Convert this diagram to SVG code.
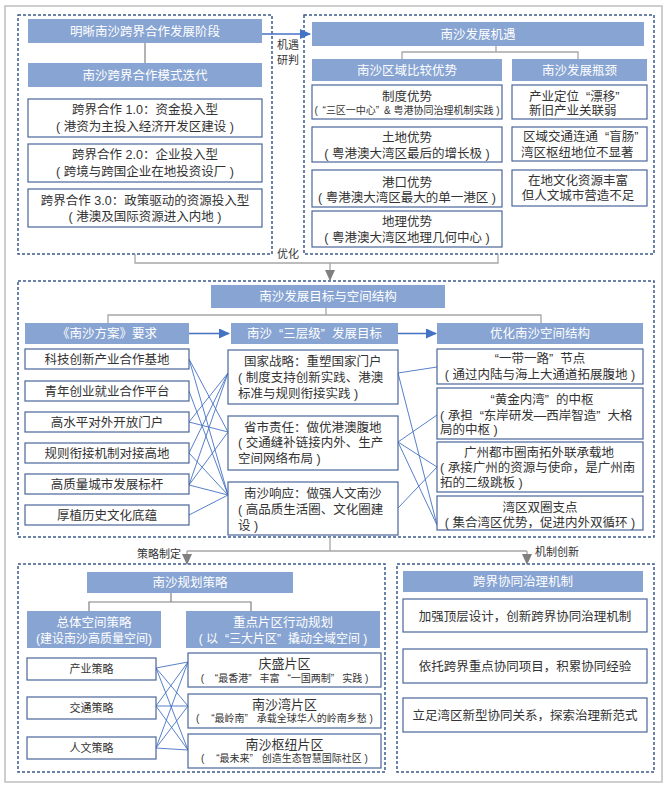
<svg xmlns="http://www.w3.org/2000/svg" width="670" height="787" viewBox="0 0 670 787">
<defs>
<style>
text{font-family:"Liberation Sans","Noto Sans CJK SC",sans-serif;fill:#333;}
.bar{fill:#87a4d2;}
.bt{fill:#fff;font-size:12.5px;text-anchor:middle;}
.box{fill:#fff;stroke:#4a659a;stroke-width:1.2;}
.t{font-size:12.5px;text-anchor:middle;}
.ts{font-size:12.5px;}
.s{font-size:10px;text-anchor:middle;}
.sm{font-size:11px;text-anchor:middle;}
.lab{font-size:11px;}
.dash{fill:none;stroke:#3b5b8c;stroke-width:1.5;stroke-dasharray:3 2;}
.g{fill:none;stroke:#a6a6a6;stroke-width:1.3;}
.gk{fill:none;stroke:#808080;stroke-width:1.2;}
.bl{fill:none;stroke:#4472c4;stroke-width:0.9;}
.ba{fill:none;stroke:#4472c4;stroke-width:1.5;}
</style>
<marker id="ab" markerUnits="userSpaceOnUse" markerWidth="11" markerHeight="10" refX="10" refY="5" orient="auto"><path d="M0,0 L11,5 L0,10 z" fill="#4472c4"/></marker>
<marker id="ag" markerUnits="userSpaceOnUse" markerWidth="11" markerHeight="10" refX="10" refY="5" orient="auto"><path d="M0,0 L11,5 L0,10 z" fill="#808080"/></marker>
</defs>
<rect x="0" y="0" width="670" height="787" fill="#fff"/>
<rect x="5" y="6" width="657" height="776" fill="none" stroke="#bfbfbf" stroke-width="1.5"/>

<!-- dashed containers -->
<g id="frames">
<rect class="dash" x="18" y="15" width="254" height="239"/>
<rect class="dash" x="304" y="15" width="350" height="239"/>
<rect class="dash" x="18" y="281" width="636" height="256"/>
<rect class="dash" x="18" y="564" width="367" height="208"/>
<rect class="dash" x="397" y="564" width="257" height="208"/>
</g>

<!-- connectors -->
<g id="connectors">
<line class="gk" x1="145" y1="43" x2="145" y2="63"/>
<line class="ba" x1="262" y1="34" x2="310" y2="34" marker-end="url(#ab)"/>
<text class="lab" x="277" y="49">机遇</text>
<text class="lab" x="277" y="64">研判</text>
<path class="g" d="M496,46 V52 M402,59 V52 H578 V59"/>
<path class="g" d="M135,254 V263 H498 V254"/>
<line class="g" x1="330" y1="263" x2="330" y2="280" marker-end="url(#ag)"/>
<text class="lab" x="277" y="258">优化</text>
<path class="g" d="M326,308 V315 M108,323 V315 H541 V323"/>
<line class="ba" x1="189" y1="333.5" x2="229" y2="333.5" marker-end="url(#ab)"/>
<line class="ba" x1="398" y1="333.5" x2="436" y2="333.5" marker-end="url(#ab)"/>
<!-- left to middle -->
<path class="bl" d="M189,359 L228,432 M189,359 L228,495 M189,391 L228,495 M189,422 L228,373 M189,422 L228,432 M189,453 L228,373 M189,453 L228,495 M189,485 L228,373 M189,485 L228,432 M189,485 L228,495 M189,515 L228,495"/>
<!-- middle to right -->
<path class="bl" d="M398,373 L437,367 M398,373 L437,525 M398,442 L437,415 M398,442 L437,467 M398,442 L437,525 M398,508 L437,467"/>
<path class="g" d="M330,537 V551 M187,551 H527"/>
<line class="g" x1="187" y1="551" x2="187" y2="564" marker-end="url(#ag)"/>
<line class="g" x1="527" y1="551" x2="527" y2="564" marker-end="url(#ag)"/>
<text class="lab" x="181" y="558" text-anchor="end">策略制定</text>
<text class="lab" x="535" y="556">机制创新</text>
<path class="gk" d="M171,593 V602 M89,611 V602 H251 V611"/>
<!-- bottom crossing -->
<path class="bl" d="M156,668 L188,662 M156,668 L188,706 M156,668 L188,750 M156,706 L188,662 M156,706 L188,706 M156,706 L188,750 M156,748 L188,662 M156,748 L188,706 M156,748 L188,750"/>
</g>

<!-- top-left -->
<g id="stage-title"><rect class="bar" x="28" y="19" width="234" height="24"/><text class="bt" x="145" y="35.5">明晰南沙跨界合作发展阶段</text></g>
<g id="mode-title"><rect class="bar" x="28" y="63" width="234" height="24"/><text class="bt" x="145" y="79.5">南沙跨界合作模式迭代</text></g>
<g id="coop1"><rect class="box" x="28" y="99" width="234" height="38"/><text class="t" x="145" y="113.5">跨界合作 1.0：资金投入型</text><text class="t" x="145" y="130.5">( 港资为主投入经济开发区建设 )</text></g>
<g id="coop2"><rect class="box" x="28" y="144" width="234" height="38"/><text class="t" x="145" y="158.5">跨界合作 2.0：企业投入型</text><text class="t" x="145" y="175.5">( 跨境与跨国企业在地投资设厂 )</text></g>
<g id="coop3"><rect class="box" x="28" y="189" width="234" height="38"/><text class="t" x="145" y="205">跨界合作 3.0：政策驱动的资源投入型</text><text class="t" x="145" y="220.5">( 港澳及国际资源进入内地 )</text></g>

<!-- top-right -->
<g id="opp-title"><rect class="bar" x="312" y="22" width="332" height="24"/><text class="bt" x="478" y="38.5">南沙发展机遇</text></g>
<g id="adv-title"><rect class="bar" x="312" y="59" width="190" height="22"/><text class="bt" x="407" y="74.5">南沙区域比较优势</text></g>
<g id="neck-title"><rect class="bar" x="512" y="59" width="135" height="22"/><text class="bt" x="579.5" y="74.5">南沙发展瓶颈</text></g>
<g id="adv1"><rect class="box" x="312" y="85" width="190" height="34"/><text class="t" x="407" y="100.5">制度优势</text><text class="s" x="407" y="113.5">( <tspan dx="2">“</tspan>三区一中心”<tspan dx="2"> </tspan>&amp; 粤港协同治理机制实践 )</text></g>
<g id="adv2"><rect class="box" x="312" y="127" width="190" height="35"/><text class="t" x="407" y="141.5">土地优势</text><text class="t" x="407" y="157.5">( 粤港澳大湾区最后的增长极 )</text></g>
<g id="adv3"><rect class="box" x="312" y="170" width="190" height="37"/><text class="t" x="407" y="186.5">港口优势</text><text class="t" x="407" y="201.5">( 粤港澳大湾区最大的单一港区 )</text></g>
<g id="adv4"><rect class="box" x="312" y="211" width="190" height="36"/><text class="t" x="407" y="225.5">地理优势</text><text class="t" x="407" y="241.5">( 粤港澳大湾区地理几何中心 )</text></g>
<g id="neck1"><rect class="box" x="512" y="85" width="135" height="34"/><text class="ts" x="529" y="101">产业定位<tspan dx="7">“</tspan>漂移”</text><text class="ts" x="529" y="115">新旧产业关联弱</text></g>
<g id="neck2"><rect class="box" x="512" y="127" width="135" height="34"/><text class="ts" x="523" y="140.5">区域交通连通<tspan dx="7">“</tspan>盲肠”</text><text class="ts" x="521" y="156.5">湾区枢纽地位不显著</text></g>
<g id="neck3"><rect class="box" x="512" y="170" width="135" height="36"/><text class="t" x="578" y="184.5">在地文化资源丰富</text><text class="t" x="578" y="199.5">但人文城市营造不足</text></g>

<!-- middle -->
<g id="goal-title"><rect class="bar" x="211" y="285" width="234" height="23"/><text class="bt" x="328" y="301">南沙发展目标与空间结构</text></g>
<g id="req-title"><rect class="bar" x="25" y="323" width="164" height="21"/><text class="bt" x="107" y="338">《南沙方案》要求</text></g>
<g id="tier-title"><rect class="bar" x="231" y="323" width="167" height="21"/><text class="bt" x="314.5" y="338">南沙<tspan dx="7">“</tspan>三层级”<tspan dx="7">发</tspan>展目标</text></g>
<g id="space-title"><rect class="bar" x="437" y="323" width="206" height="21"/><text class="bt" x="540" y="338">优化南沙空间结构</text></g>
<g id="req1"><rect class="box" x="25" y="349" width="164" height="20"/><text class="t" x="107" y="363.5">科技创新产业合作基地</text></g>
<g id="req2"><rect class="box" x="25" y="381" width="164" height="20"/><text class="t" x="107" y="395.5">青年创业就业合作平台</text></g>
<g id="req3"><rect class="box" x="25" y="412" width="164" height="20"/><text class="t" x="107" y="426.5">高水平对外开放门户</text></g>
<g id="req4"><rect class="box" x="25" y="443" width="164" height="20"/><text class="t" x="107" y="457.5">规则衔接机制对接高地</text></g>
<g id="req5"><rect class="box" x="25" y="474" width="164" height="20"/><text class="t" x="107" y="488.5">高质量城市发展标杆</text></g>
<g id="req6"><rect class="box" x="25" y="505" width="164" height="20"/><text class="t" x="107" y="519.5">厚植历史文化底蕴</text></g>
<g id="tier1"><rect class="box" x="228" y="350" width="170" height="54"/><text class="ts" x="244" y="365.5">国家战略：重塑国家门户</text><text class="ts" x="238" y="382">( 制度支持创新实践、港澳</text><text class="ts" x="238" y="398">标准与规则衔接实践 )</text></g>
<g id="tier2"><rect class="box" x="228" y="416" width="170" height="54"/><text class="ts" x="244" y="431.5">省市责任：做优港澳腹地</text><text class="ts" x="238" y="447">( 交通缝补链接内外、生产</text><text class="ts" x="238" y="463">空间网络布局 )</text></g>
<g id="tier3"><rect class="box" x="228" y="482" width="170" height="53"/><text class="ts" x="244" y="497.5">南沙响应：做强人文南沙</text><text class="ts" x="238" y="513.5">( 高品质生活圈、文化圈建</text><text class="ts" x="238" y="529.5">设 )</text></g>
<g id="sp1"><rect class="box" x="437" y="349" width="206" height="35"/><text class="t" x="540" y="362.5">“一带一路”<tspan dx="7">节</tspan>点</text><text class="t" x="540" y="378.5">( 通过内陆与海上大通道拓展腹地 )</text></g>
<g id="sp2"><rect class="box" x="437" y="388" width="206" height="51"/><text class="t" x="542" y="404">“黄金内湾”<tspan dx="7">的</tspan>中枢</text><text class="ts" x="440" y="419.5">( 承担<tspan dx="7">“</tspan>东岸研发—西岸智造”<tspan dx="7">大</tspan>格</text><text class="ts" x="440" y="434">局的中枢 )</text></g>
<g id="sp3"><rect class="box" x="437" y="442" width="206" height="50"/><text class="t" x="539" y="457">广州都市圈南拓外联承载地</text><text class="ts" x="440" y="472">( 承接广州的资源与使命，是广州南</text><text class="ts" x="440" y="487">拓的二级跳板 )</text></g>
<g id="sp4"><rect class="box" x="437" y="496" width="206" height="34"/><text class="t" x="540" y="511.5">湾区双圈支点</text><text class="t" x="540" y="526.5">( 集合湾区优势，促进内外双循环 )</text></g>

<!-- bottom-left -->
<g id="plan-title"><rect class="bar" x="87" y="572" width="206" height="21"/><text class="bt" x="190" y="587">南沙规划策略</text></g>
<g id="overall-title"><rect class="bar" x="27" y="611" width="134" height="37"/><text class="bt" x="94" y="626.5">总体空间策略</text><text class="bt" x="94" y="642.5" style="font-size:12px">(建设南沙高质量空间)</text></g>
<g id="key-title"><rect class="bar" x="186" y="611" width="194" height="37"/><text class="bt" x="283" y="626.5">重点片区行动规划</text><text class="bt" x="283" y="642.5" style="font-size:12px">( 以<tspan dx="7">“</tspan>三大片区”<tspan dx="7">撬</tspan>动全域空间 )</text></g>
<g id="st1"><rect class="box" x="27" y="658" width="129" height="22"/><text class="sm" x="91.5" y="673">产业策略</text></g>
<g id="st2"><rect class="box" x="27" y="697" width="129" height="22"/><text class="sm" x="91.5" y="712">交通策略</text></g>
<g id="st3"><rect class="box" x="27" y="737" width="129" height="22"/><text class="sm" x="91.5" y="752">人文策略</text></g>
<g id="zone1"><rect class="box" x="188" y="653" width="193" height="34"/><text class="t" x="284.5" y="667.5" style="font-size:13px">庆盛片区</text><text class="s" x="284.5" y="681.5">( <tspan dx="8">“</tspan>最香港”<tspan dx="8">丰</tspan>富<tspan dx="8">“</tspan>一国两制”<tspan dx="8">实</tspan>践 )</text></g>
<g id="zone2"><rect class="box" x="188" y="694" width="193" height="34"/><text class="t" x="284.5" y="708.5" style="font-size:13px">南沙湾片区</text><text class="s" x="284.5" y="722">( <tspan dx="9">“</tspan>最岭南”<tspan dx="9">承</tspan>载全球华人的岭南乡愁 )</text></g>
<g id="zone3"><rect class="box" x="188" y="734" width="193" height="34"/><text class="t" x="284.5" y="748.5" style="font-size:13px">南沙枢纽片区</text><text class="s" x="284.5" y="762">( <tspan dx="9">“</tspan>最未来”<tspan dx="9">创</tspan>造生态智慧国际社区 )</text></g>

<!-- bottom-right -->
<g id="gov-title"><rect class="bar" x="403" y="571" width="240" height="21"/><text class="bt" x="523" y="586">跨界协同治理机制</text></g>
<g id="gov1"><rect class="box" x="403" y="599" width="244" height="33"/><text class="t" x="525" y="621">加强顶层设计，创新跨界协同治理机制</text></g>
<g id="gov2"><rect class="box" x="403" y="649" width="244" height="34"/><text class="t" x="525" y="671">依托跨界重点协同项目，积累协同经验</text></g>
<g id="gov3"><rect class="box" x="403" y="698" width="244" height="34"/><text class="t" x="525" y="719.5">立足湾区新型协同关系，探索治理新范式</text></g>
</svg>
